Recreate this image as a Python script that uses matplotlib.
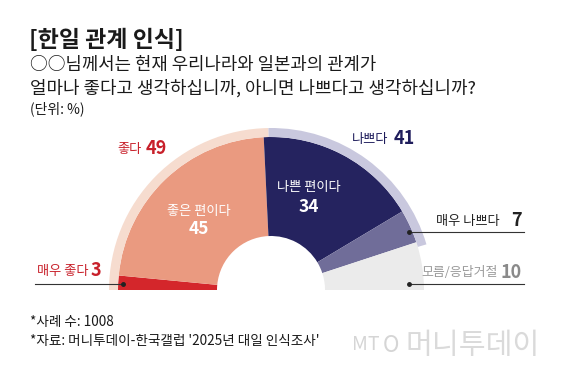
import matplotlib
matplotlib.use("Agg")
import matplotlib.pyplot as plt
from matplotlib.patches import Wedge

plt.rcParams['font.family'] = ['Noto Sans CJK KR', 'DejaVu Sans']

# 응답 (단위: %)
labels = ['매우 좋다', '좋은 편이다', '나쁜 편이다', '매우 나쁘다', '모름/응답거절']
values = [3, 45, 34, 7, 10]
colors = ['#d4262b', '#ea9a80', '#25235f', '#706d99', '#ebebeb']

groups = ['좋다', '나쁘다']
group_values = [49, 41]
group_colors = ['#f6dccf', '#c9c8de']

W, H = 566, 372
fig = plt.figure(figsize=(W / 100, H / 100), dpi=100)
ax = fig.add_axes([0, 0, 1, 1])
ax.set_xlim(0, W)
ax.set_ylim(0, H)
ax.axis('off')

def Y(py):
    return H - py  # pixel (haut) -> coord

cx, cy = 271, Y(290)
r_in, r_out, r_ring = 54, 153, 162
total = sum(values)

# anneau principal, de gauche (180) vers la droite
a = 180.0
for v, c in zip(values, colors):
    span = v / total * 180
    ax.add_patch(Wedge((cx, cy), r_out, a - span, a, width=r_out - r_in,
                       facecolor=c, edgecolor='none'))
    a -= span

# anneau extérieur clair
a = 180.0
for v, c in zip(group_values, group_colors):
    span = v / total * 180
    ax.add_patch(Wedge((cx, cy), r_ring, a - span, a, width=r_ring - r_out,
                       facecolor=c, edgecolor='none'))
    a -= span

# titres
ax.text(29, Y(40), '[한일 관계 인식]', fontsize=16.5, fontweight='bold', va='center', color='#1a1a1a')
ax.text(30, Y(65), '○○님께서는 현재 우리나라와 일본과의 관계가', fontsize=12.8, va='center', color='#1a1a1a')
ax.text(30, Y(88), '얼마나 좋다고 생각하십니까, 아니면 나쁘다고 생각하십니까?', fontsize=12.9, va='center', color='#1a1a1a')
ax.text(30, Y(109), '(단위: %)', fontsize=10, va='center', color='#1a1a1a')

# étiquettes intérieures
ax.text(199, Y(211), labels[1], fontsize=9.5, color='white', ha='center', va='center')
ax.text(199, Y(229), str(values[1]), fontsize=12.5, fontweight='bold', color='white', ha='center', va='center')
ax.text(309, Y(188), labels[2], fontsize=9.5, color='white', ha='center', va='center')
ax.text(309, Y(207), str(values[2]), fontsize=12.5, fontweight='bold', color='white', ha='center', va='center')

# étiquettes groupes
ax.text(142, Y(150), groups[0], fontsize=9.5, color='#c8202a', ha='right', va='center')
ax.text(146, Y(149), str(group_values[0]), fontsize=13, fontweight='bold', color='#c8202a', ha='left', va='center')
ax.text(388, Y(139), groups[1], fontsize=9.5, color='#1f1d5c', ha='right', va='center')
ax.text(394, Y(138), str(group_values[1]), fontsize=13, fontweight='bold', color='#1f1d5c', ha='left', va='center')

# étiquettes avec lignes
ax.plot([35, 123], [Y(284), Y(284)], color='#333333', lw=0.8)
ax.plot([123], [Y(284)], 'o', color='#222222', ms=2.5)
ax.text(37, Y(272), labels[0], fontsize=9.5, color='#c8202a', ha='left', va='center')
ax.text(91, Y(271), str(values[0]), fontsize=13, fontweight='bold', color='#c8202a', ha='left', va='center')

ax.plot([409, 524], [Y(232), Y(232)], color='#333333', lw=0.8)
ax.plot([409], [Y(232)], 'o', color='#222222', ms=2.5)
ax.text(500, Y(221), labels[3], fontsize=9.5, color='#222222', ha='right', va='center')
ax.text(522, Y(220), str(values[3]), fontsize=13, fontweight='bold', color='#222222', ha='right', va='center')

ax.plot([409, 524], [Y(284), Y(284)], color='#333333', lw=0.8)
ax.plot([409], [Y(284)], 'o', color='#222222', ms=2.5)
ax.text(498, Y(273), labels[4], fontsize=9.3, color='#9a9a9a', ha='right', va='center')
ax.text(522, Y(272), str(values[4]), fontsize=13, fontweight='bold', color='#8a8a8a', ha='right', va='center')

# notes
ax.text(30, Y(322), '*사례 수: 1008', fontsize=9.8, va='center', color='#1a1a1a')
ax.text(30, Y(341), "*자료: 머니투데이-한국갤럽 '2025년 대일 인식조사'", fontsize=9.8, va='center', color='#1a1a1a')

# filigrane
ax.text(366, Y(345), 'MT', fontsize=14, style='italic', color='#d5d5d5', ha='center', va='center')
ax.text(391, Y(345), 'O', fontsize=16, style='italic', color='#d5d5d5', ha='center', va='center')
ax.text(405, Y(346), '머니투데이', fontsize=21, fontweight='light', color='#dadada', ha='left', va='center')

fig.savefig('out.png', dpi=100)
